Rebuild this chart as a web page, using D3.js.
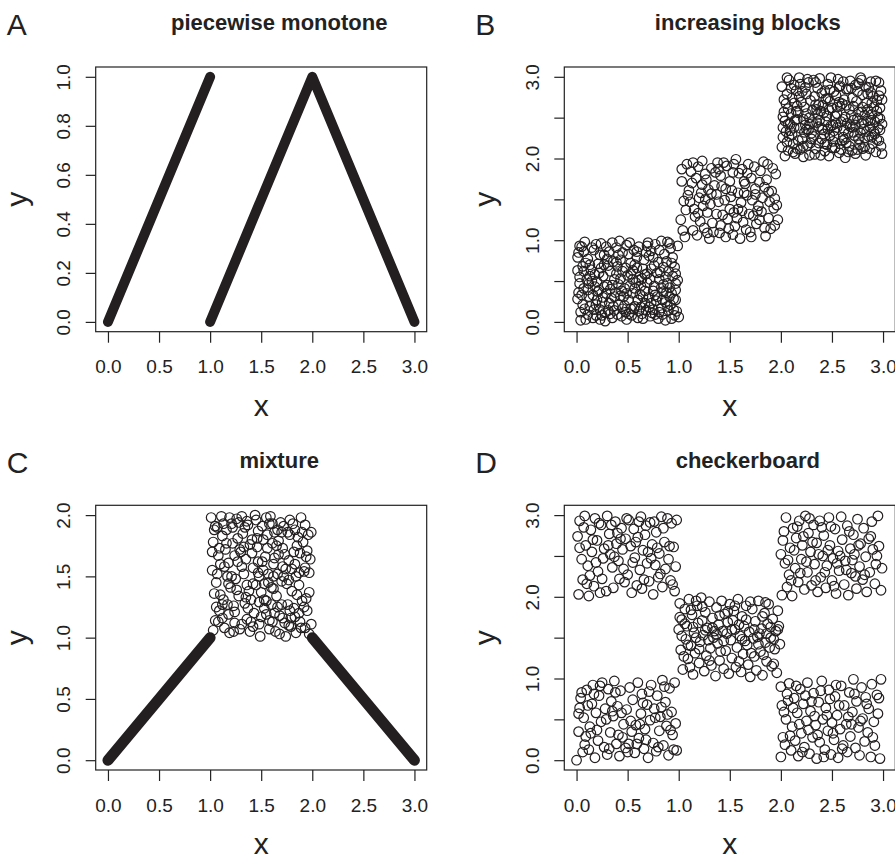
<!DOCTYPE html>
<html>
  <head>
    <title>Dependence patterns</title>
    <script src="https://cdn.jsdelivr.net/npm/d3@7"></script>
    <style>
      body { margin: 0; background: #fff; }
    </style>
  </head>

  <body>
    <script>
      // Tick values
      const xTicks = [0, 0.5, 1, 1.5, 2, 2.5, 3];
      const yTicksA = [0, 0.2, 0.4, 0.6, 0.8, 1];
      const yTicksB = [0, 0.5, 1, 1.5, 2, 2.5, 3];
      const yTickLabelsB = ["0.0", "", "1.0", "", "2.0", "", "3.0"];
      const yTicksC = [0, 0.5, 1, 1.5, 2];

      // Dense point bands (so many circles they read as a thick line) - endpoints
      const aLines = [
        [[0, 0], [1, 1]],
        [[1, 0], [2, 1], [3, 0]]
      ];
      const cLines = [
        [[0, 0], [1, 1]],
        [[2, 1], [3, 0]]
      ];

      // B: increasing blocks
      const bBlock1 = [
        [0.02,0.85],[0.05,0.92],[0.08,0.98],[0.11,0.77],[0.14,0.64],[0.03,0.55],[0.07,0.41],[0.01,0.28],[0.04,0.12],[0.09,0.03],
        [0.13,0.19],[0.16,0.33],[0.12,0.47],[0.18,0.58],[0.21,0.71],[0.17,0.88],[0.24,0.96],[0.27,0.82],[0.22,0.39],[0.25,0.24],
        [0.19,0.08],[0.28,0.01],[0.31,0.14],[0.34,0.29],[0.3,0.45],[0.33,0.62],[0.36,0.74],[0.39,0.91],[0.42,0.99],[0.45,0.85],
        [0.4,0.68],[0.43,0.53],[0.38,0.36],[0.41,0.21],[0.44,0.07],[0.48,0.12],[0.51,0.27],[0.47,0.41],[0.5,0.57],[0.53,0.72],
        [0.49,0.94],[0.56,0.88],[0.59,0.79],[0.55,0.63],[0.58,0.48],[0.62,0.34],[0.57,0.19],[0.6,0.05],[0.64,0.1],[0.67,0.23],
        [0.63,0.44],[0.69,0.59],[0.66,0.76],[0.7,0.97],[0.73,0.87],[0.76,0.69],[0.72,0.52],[0.75,0.38],[0.78,0.26],[0.74,0.11],
        [0.8,0.04],[0.83,0.17],[0.79,0.31],[0.85,0.46],[0.82,0.61],[0.86,0.83],[0.89,0.98],[0.92,0.9],[0.88,0.74],[0.94,0.56],
        [0.91,0.42],[0.95,0.28],[0.9,0.14],[0.87,0.02],[0.97,0.47],[0.96,0.67],[0.99,0.93],[0.98,0.13],[1.0,0.06],[0.93,0.35],
        [0.06,0.21],[0.02,0.36],[0.1,0.52],[0.06,0.68],[0.01,0.79],[0.15,0.91],[0.2,0.49],[0.23,0.15],[0.26,0.56],[0.29,0.35],
        [0.32,0.86],[0.35,0.05],[0.37,0.52],[0.46,0.31],[0.52,0.44],[0.54,0.08],[0.61,0.92],[0.65,0.65],[0.68,0.14],[0.71,0.3],
        [0.77,0.95],[0.81,0.52],[0.84,0.27],[0.9,0.62],[0.94,0.79],[0.08,0.16],[0.12,0.31],[0.16,0.05],[0.2,0.27],[0.24,0.66],
        [0.28,0.11],[0.32,0.23],[0.36,0.19],[0.4,0.09],[0.44,0.38],[0.48,0.66],[0.52,0.97],[0.56,0.16],[0.6,0.27],[0.64,0.53],
        [0.68,0.85],[0.72,0.07],[0.76,0.44],[0.8,0.73],[0.84,0.09],[0.88,0.36],[0.92,0.21],[0.96,0.08],[0.03,0.47],[0.13,0.7],
        [0.18,0.43],[0.23,0.82],[0.27,0.43],[0.31,0.69],[0.35,0.97],[0.39,0.59],[0.43,0.76],[0.47,0.2],[0.51,0.83],[0.55,0.35],
        [0.59,0.66],[0.63,0.18],[0.67,0.38],[0.71,0.81],[0.75,0.15],[0.79,0.6],[0.83,0.99],[0.87,0.55],[0.91,0.31],[0.97,0.39],
        [0.04,0.02],[0.07,0.62],[0.11,0.09],[0.15,0.5],[0.19,0.95],[0.22,0.6],[0.26,0.3],[0.3,0.77],[0.33,0.4],[0.37,0.14],
        [0.41,0.46],[0.45,0.62],[0.49,0.03],[0.53,0.59],[0.57,0.41],[0.61,0.13],[0.65,0.31],[0.69,0.48],[0.73,0.65],[0.77,0.33],
        [0.81,0.12],[0.85,0.67],[0.89,0.47],[0.93,0.04],[0.97,0.59],[0.01,0.63],[0.05,0.33],[0.09,0.72],[0.13,0.56],[0.17,0.15],
        [0.21,0.37],[0.25,0.08],[0.29,0.92],[0.33,0.1],[0.37,0.31],[0.41,0.82],[0.45,0.16],[0.49,0.35],[0.53,0.16],[0.57,0.7],
        [0.61,0.51],[0.65,0.04],[0.69,0.93],[0.73,0.23],[0.77,0.09],[0.81,0.88],[0.85,0.37],[0.89,0.19],[0.93,0.72],[0.97,0.27],
        [0.03,0.93],[0.11,0.39],[0.19,0.21],[0.27,0.7],[0.35,0.45],[0.43,0.32],[0.51,0.1],[0.59,0.86],[0.67,0.58],[0.75,0.79],
        [0.83,0.42],[0.91,0.96],[0.99,0.51],[0.07,0.86],[0.23,0.03],[0.39,0.73],[0.55,0.52],[0.71,0.18],[0.87,0.24],[0.95,0.15]
      ];
      const bBlock2 = [
        [1.02,1.25],[1.05,1.48],[1.03,1.72],[1.08,1.93],[1.12,1.84],[1.1,1.61],[1.07,1.37],[1.14,1.12],[1.18,1.06],[1.16,1.29],
        [1.2,1.52],[1.17,1.76],[1.23,1.97],[1.26,1.81],[1.22,1.58],[1.28,1.34],[1.25,1.15],[1.3,1.02],[1.33,1.21],[1.31,1.44],
        [1.35,1.67],[1.32,1.88],[1.38,1.95],[1.41,1.79],[1.37,1.56],[1.43,1.31],[1.4,1.09],[1.46,1.04],[1.48,1.26],[1.45,1.49],
        [1.5,1.72],[1.47,1.91],[1.53,1.83],[1.56,1.99],[1.52,1.61],[1.58,1.38],[1.55,1.17],[1.6,1.02],[1.63,1.22],[1.61,1.46],
        [1.65,1.69],[1.62,1.87],[1.68,1.93],[1.71,1.76],[1.67,1.55],[1.73,1.3],[1.7,1.1],[1.76,1.2],[1.78,1.42],[1.75,1.63],
        [1.8,1.85],[1.83,1.96],[1.86,1.74],[1.82,1.52],[1.88,1.27],[1.85,1.05],[1.9,1.14],[1.93,1.39],[1.91,1.6],[1.95,1.81],
        [1.97,1.25],[1.94,1.51],[1.04,1.12],[1.09,1.55],[1.13,1.7],[1.19,1.9],[1.24,1.42],[1.29,1.62],[1.34,1.1],[1.39,1.47],
        [1.44,1.95],[1.49,1.14],[1.54,1.34],[1.59,1.82],[1.64,1.58],[1.69,1.32],[1.74,1.9],[1.79,1.25],[1.84,1.65],[1.89,1.47],
        [1.15,1.38],[1.21,1.23],[1.27,1.74],[1.36,1.83],[1.42,1.66],[1.51,1.53],[1.57,1.27],[1.66,1.13],[1.72,1.49],[1.81,1.35],
        [1.03,1.87],[1.06,1.04],[1.11,1.47],[1.14,1.95],[1.19,1.33],[1.23,1.68],[1.28,1.09],[1.32,1.57],[1.37,1.32],[1.41,1.18],
        [1.46,1.63],[1.5,1.38],[1.54,1.93],[1.58,1.58],[1.62,1.36],[1.67,1.82],[1.71,1.04],[1.75,1.56],[1.79,1.71],[1.84,1.15],
        [1.88,1.59],[1.92,1.88],[1.96,1.43],[1.26,1.5],[1.39,1.87],[1.53,1.07],[1.64,1.72],[1.77,1.36],[1.87,1.93],[1.94,1.18]
      ];
      const bBlock3 = [
        [2.01,2.88],[2.03,2.72],[2.02,2.51],[2.05,2.33],[2.01,2.14],[2.04,2.03],[2.08,2.96],[2.07,2.61],[2.09,2.42],[2.06,2.2],
        [2.12,2.08],[2.11,2.29],[2.14,2.47],[2.13,2.68],[2.15,2.83],[2.18,2.99],[2.17,2.56],[2.19,2.37],[2.16,2.12],[2.22,2.02],
        [2.21,2.24],[2.24,2.41],[2.23,2.63],[2.25,2.79],[2.27,2.93],[2.29,2.71],[2.28,2.5],[2.3,2.31],[2.26,2.16],[2.33,2.05],
        [2.32,2.27],[2.35,2.44],[2.34,2.66],[2.36,2.86],[2.38,2.98],[2.4,2.8],[2.39,2.58],[2.41,2.35],[2.37,2.19],[2.43,2.09],
        [2.42,2.3],[2.45,2.52],[2.44,2.73],[2.46,2.91],[2.48,2.84],[2.5,2.62],[2.49,2.4],[2.51,2.21],[2.47,2.03],[2.53,2.13],
        [2.52,2.34],[2.55,2.55],[2.54,2.77],[2.56,2.97],[2.58,2.89],[2.6,2.67],[2.59,2.45],[2.61,2.26],[2.57,2.07],[2.63,2.01],
        [2.62,2.23],[2.65,2.43],[2.64,2.65],[2.66,2.85],[2.68,2.95],[2.7,2.74],[2.69,2.53],[2.71,2.32],[2.67,2.15],[2.73,2.06],
        [2.72,2.28],[2.75,2.49],[2.74,2.7],[2.76,2.92],[2.78,2.99],[2.8,2.78],[2.79,2.57],[2.81,2.36],[2.77,2.17],[2.83,2.04],
        [2.82,2.25],[2.85,2.46],[2.84,2.68],[2.86,2.87],[2.88,2.94],[2.9,2.76],[2.89,2.54],[2.91,2.33],[2.87,2.12],[2.93,2.08],
        [2.92,2.3],[2.95,2.5],[2.94,2.71],[2.96,2.93],[2.98,2.83],[2.97,2.62],[2.99,2.42],[2.96,2.22],[2.99,2.06],[2.02,2.38],
        [2.06,2.79],[2.1,2.55],[2.13,2.9],[2.17,2.22],[2.2,2.69],[2.24,2.87],[2.27,2.35],[2.31,2.59],[2.34,2.12],[2.38,2.47],
        [2.41,2.65],[2.45,2.17],[2.48,2.28],[2.52,2.82],[2.55,2.38],[2.59,2.11],[2.62,2.72],[2.66,2.31],[2.69,2.86],[2.73,2.41],
        [2.76,2.24],[2.8,2.63],[2.83,2.88],[2.87,2.39],[2.9,2.18],[2.94,2.58],[2.97,2.35],[2.04,2.46],[2.08,2.27],[2.11,2.74],
        [2.15,2.58],[2.19,2.11],[2.22,2.48],[2.26,2.97],[2.29,2.19],[2.33,2.76],[2.36,2.54],[2.4,2.24],[2.43,2.83],[2.47,2.6],
        [2.5,2.13],[2.54,2.43],[2.57,2.69],[2.61,2.94],[2.64,2.19],[2.68,2.39],[2.71,2.64],[2.75,2.11],[2.78,2.31],[2.82,2.53],
        [2.85,2.79],[2.89,2.26],[2.92,2.45],[2.96,2.77],[2.09,2.34],[2.18,2.76],[2.28,2.42],[2.46,2.36],[2.63,2.51],[2.81,2.44],
        [2.02,2.26],[2.05,2.67],[2.07,2.1],[2.1,2.86],[2.13,2.38],[2.16,2.64],[2.19,2.91],[2.22,2.15],[2.25,2.55],[2.28,2.04],
        [2.31,2.44],[2.34,2.93],[2.37,2.66],[2.4,2.37],[2.43,2.18],[2.46,2.74],[2.49,2.99],[2.52,2.27],[2.55,2.63],[2.58,2.18],
        [2.61,2.48],[2.64,2.85],[2.67,2.6],[2.7,2.1],[2.73,2.9],[2.76,2.57],[2.79,2.43],[2.82,2.14],[2.85,2.6],[2.88,2.81],
        [2.91,2.63],[2.94,2.23],[2.97,2.49],[2.99,2.72],[2.03,2.57],[2.07,2.42],[2.12,2.18],[2.16,2.48],[2.21,2.82],[2.25,2.36],
        [2.3,2.24],[2.35,2.6],[2.39,2.04],[2.44,2.45],[2.48,2.7],[2.53,2.52],[2.57,2.88],[2.62,2.35],[2.66,2.08],[2.71,2.47],
        [2.75,2.82],[2.8,2.12],[2.84,2.33],[2.89,2.68],[2.93,2.95],[2.98,2.15],[2.14,2.06],[2.23,2.32],[2.32,2.96],[2.42,2.56],
        [2.51,2.41],[2.6,2.22],[2.7,2.38],[2.79,2.96],[2.88,2.47],[2.95,2.37],[2.06,2.99],[2.37,2.39],[2.58,2.64],[2.86,2.27]
      ];

      // C: mixture (scattered square on top of the V)
      const cBlock = [
        [1.01,1.98],[1.03,1.78],[1.02,1.55],[1.04,1.36],[1.05,1.14],[1.03,1.06],[1.07,1.9],[1.08,1.67],[1.06,1.45],[1.09,1.22],
        [1.11,1.99],[1.12,1.83],[1.1,1.6],[1.13,1.31],[1.14,1.08],[1.16,1.88],[1.15,1.72],[1.17,1.5],[1.18,1.19],[1.19,1.04],
        [1.21,1.93],[1.22,1.77],[1.2,1.41],[1.23,1.26],[1.24,1.12],[1.26,1.97],[1.27,1.62],[1.25,1.48],[1.28,1.34],[1.29,1.07],
        [1.31,1.99],[1.32,1.85],[1.3,1.7],[1.33,1.52],[1.34,1.28],[1.36,1.15],[1.37,1.92],[1.35,1.64],[1.38,1.38],[1.39,1.05],
        [1.41,1.8],[1.42,1.57],[1.4,1.31],[1.43,1.2],[1.44,2.0],[1.46,1.74],[1.47,1.53],[1.45,1.43],[1.48,1.11],[1.49,1.01],
        [1.51,1.91],[1.52,1.55],[1.5,1.37],[1.53,1.24],[1.54,1.66],[1.56,1.84],[1.57,1.52],[1.55,1.3],[1.58,1.14],[1.59,1.99],
        [1.61,1.77],[1.62,1.6],[1.6,1.41],[1.63,1.2],[1.64,1.05],[1.66,1.88],[1.67,1.68],[1.65,1.34],[1.68,1.18],[1.69,1.94],
        [1.71,1.73],[1.72,1.5],[1.7,1.27],[1.73,1.12],[1.74,1.01],[1.76,1.86],[1.77,1.63],[1.75,1.44],[1.78,1.22],[1.79,1.09],
        [1.81,1.93],[1.82,1.7],[1.8,1.56],[1.83,1.17],[1.84,1.04],[1.86,1.82],[1.87,1.53],[1.85,1.35],[1.88,1.13],[1.89,1.98],
        [1.91,1.78],[1.92,1.54],[1.9,1.3],[1.93,1.08],[1.94,1.66],[1.96,1.84],[1.97,1.37],[1.95,1.22],[1.98,1.64],[1.99,1.11],
        [1.04,1.88],[1.09,1.73],[1.13,1.93],[1.18,1.61],[1.22,1.9],[1.27,1.81],[1.33,1.74],[1.36,1.95],[1.41,1.69],[1.47,1.87],
        [1.52,1.8],[1.58,1.93],[1.63,1.86],[1.67,1.79],[1.72,1.91],[1.78,1.84],[1.83,1.88],[1.88,1.69],[1.93,1.92],[1.06,1.25],
        [1.12,1.16],[1.17,1.27],[1.24,1.21],[1.31,1.11],[1.37,1.24],[1.42,1.09],[1.48,1.29],[1.55,1.19],[1.61,1.13],[1.66,1.25],
        [1.71,1.16],[1.77,1.1],[1.82,1.24],[1.87,1.2],[1.94,1.32],[1.47,1.62],[1.57,1.45],[1.62,1.5],[1.71,1.58],[1.77,1.47],
        [1.02,1.7],[1.05,1.91],[1.08,1.13],[1.1,1.35],[1.14,1.58],[1.16,1.77],[1.19,1.98],[1.21,1.5],[1.23,1.05],[1.26,1.39],
        [1.29,1.72],[1.31,1.58],[1.34,1.9],[1.36,1.43],[1.39,1.76],[1.42,1.44],[1.45,1.96],[1.48,1.5],[1.5,1.17],[1.53,1.44],
        [1.56,1.73],[1.58,1.07],[1.61,1.93],[1.63,1.65],[1.66,1.52],[1.68,1.03],[1.7,1.46],[1.73,1.68],[1.76,1.27],[1.78,1.96],
        [1.8,1.38],[1.83,1.6],[1.85,1.75],[1.87,1.43],[1.9,1.86],[1.92,1.25],[1.95,1.71],[1.97,1.53],[1.99,1.86],[1.12,1.27],
        [1.18,1.44],[1.24,1.67],[1.28,1.94],[1.35,1.33],[1.4,1.13],[1.46,1.81],[1.51,1.62],[1.55,1.98],[1.6,1.27],[1.65,1.75],
        [1.7,1.86],[1.74,1.56],[1.79,1.16],[1.84,1.5],[1.89,1.08],[1.93,1.57],[1.97,1.03],[1.07,1.52],[1.62,1.4],[1.53,1.31]
      ];

      // D: checkerboard
      const dBlock1 = [
        [0.0,0.0],[0.02,0.35],[0.03,0.64],[0.04,0.76],[0.06,0.1],[0.07,0.52],[0.09,0.29],[0.1,0.86],[0.12,0.13],[0.13,0.41],
        [0.15,0.69],[0.16,0.92],[0.18,0.03],[0.19,0.58],[0.21,0.24],[0.22,0.79],[0.24,0.47],[0.25,0.95],[0.27,0.16],[0.28,0.63],
        [0.3,0.07],[0.31,0.87],[0.33,0.34],[0.34,0.72],[0.36,0.54],[0.37,0.97],[0.39,0.2],[0.4,0.66],[0.42,0.05],[0.43,0.85],
        [0.45,0.28],[0.46,0.44],[0.48,0.15],[0.49,0.62],[0.51,0.2],[0.52,0.89],[0.54,0.35],[0.55,0.74],[0.57,0.09],[0.58,0.43],
        [0.6,0.95],[0.61,0.27],[0.63,0.57],[0.64,0.81],[0.66,0.14],[0.67,0.38],[0.69,0.68],[0.7,0.03],[0.72,0.49],[0.73,0.92],
        [0.75,0.21],[0.76,0.63],[0.78,0.11],[0.79,0.79],[0.81,0.36],[0.82,0.53],[0.84,0.98],[0.85,0.18],[0.87,0.71],[0.88,0.42],
        [0.9,0.06],[0.91,0.88],[0.93,0.59],[0.94,0.31],[0.96,0.95],[0.97,0.45],[0.98,0.12],[0.14,0.33],[0.35,0.6],[0.62,0.44],
        [0.02,0.57],[0.05,0.83],[0.08,0.19],[0.11,0.67],[0.17,0.81],[0.2,0.37],[0.23,0.91],[0.29,0.5],[0.32,0.14],[0.38,0.83],
        [0.41,0.31],[0.44,0.58],[0.5,0.1],[0.53,0.48],[0.59,0.2],[0.65,0.7],[0.68,0.25],[0.71,0.84],[0.77,0.52],[0.8,0.16],
        [0.83,0.65],[0.86,0.9],[0.89,0.56],[0.92,0.37],[0.95,0.13]
      ];
      const dBlock2 = [
        [0.01,2.74],[0.02,2.03],[0.03,2.93],[0.05,2.46],[0.06,2.21],[0.08,2.99],[0.09,2.63],[0.11,2.38],[0.12,2.01],[0.14,2.82],
        [0.15,2.55],[0.17,2.13],[0.18,2.96],[0.2,2.69],[0.21,2.31],[0.23,2.05],[0.24,2.88],[0.26,2.47],[0.27,2.59],[0.29,2.07],
        [0.3,2.99],[0.32,2.77],[0.33,2.52],[0.35,2.36],[0.36,2.11],[0.38,2.92],[0.39,2.65],[0.41,2.44],[0.42,2.22],[0.44,2.84],
        [0.45,2.58],[0.47,2.18],[0.48,2.71],[0.5,2.27],[0.51,2.94],[0.53,2.62],[0.54,2.05],[0.56,2.83],[0.57,2.48],[0.59,2.14],
        [0.6,2.73],[0.62,2.33],[0.63,2.98],[0.65,2.57],[0.66,2.21],[0.68,2.87],[0.69,2.41],[0.71,2.19],[0.72,2.91],[0.74,2.64],
        [0.75,2.03],[0.77,2.39],[0.78,2.79],[0.8,2.24],[0.81,2.53],[0.83,2.98],[0.84,2.12],[0.86,2.67],[0.87,2.34],[0.89,2.96],
        [0.9,2.46],[0.92,2.2],[0.93,2.9],[0.95,2.61],[0.96,2.07],[0.97,2.37],[0.98,2.94],[0.13,2.26],[0.4,2.78],[0.7,2.55],
        [0.03,2.6],[0.07,2.85],[0.1,2.16],[0.16,2.7],[0.19,2.42],[0.22,2.9],[0.25,2.22],[0.31,2.63],[0.34,2.88],[0.37,2.49],
        [0.43,2.71],[0.46,2.34],[0.49,2.96],[0.55,2.42],[0.58,2.67],[0.61,2.92],[0.64,2.1],[0.67,2.76],[0.73,2.47],[0.76,2.92],
        [0.79,2.6],[0.82,2.28],[0.85,2.84],[0.91,2.62],[0.94,2.15]
      ];
      const dBlock3 = [
        [2.0,0.9],[2.01,0.67],[2.02,0.28],[2.0,0.04],[2.04,0.19],[2.05,0.5],[2.07,0.73],[2.08,0.94],[2.1,0.12],[2.11,0.41],
        [2.13,0.76],[2.14,0.24],[2.16,0.58],[2.17,0.05],[2.19,0.87],[2.2,0.33],[2.22,0.69],[2.23,0.16],[2.25,0.48],[2.26,0.95],
        [2.28,0.08],[2.29,0.6],[2.31,0.28],[2.32,0.82],[2.34,0.43],[2.35,0.02],[2.37,0.71],[2.38,0.22],[2.4,0.97],[2.41,0.5],
        [2.43,0.13],[2.44,0.64],[2.46,0.36],[2.47,0.86],[2.49,0.07],[2.5,0.46],[2.52,0.25],[2.53,0.78],[2.55,0.55],[2.56,0.03],
        [2.58,0.38],[2.59,0.91],[2.61,0.18],[2.62,0.67],[2.64,0.44],[2.65,0.1],[2.67,0.83],[2.68,0.29],[2.7,0.59],[2.71,0.99],
        [2.73,0.15],[2.74,0.72],[2.76,0.4],[2.77,0.06],[2.79,0.89],[2.8,0.51],[2.82,0.23],[2.83,0.77],[2.85,0.34],[2.86,0.63],
        [2.88,0.04],[2.89,0.93],[2.91,0.47],[2.92,0.18],[2.94,0.8],[2.95,0.57],[2.97,0.02],[2.98,0.99],[2.33,0.54],[2.69,0.44],
        [2.03,0.59],[2.06,0.81],[2.09,0.3],[2.12,0.64],[2.15,0.91],[2.18,0.44],[2.21,0.1],[2.24,0.79],[2.27,0.37],[2.3,0.72],
        [2.36,0.31],[2.39,0.85],[2.42,0.04],[2.45,0.55],[2.48,0.75],[2.51,0.33],[2.54,0.92],[2.57,0.67],[2.6,0.14],[2.66,0.53],
        [2.72,0.81],[2.78,0.48],[2.84,0.69],[2.9,0.28],[2.96,0.76]
      ];
      const dBlock4 = [
        [2.0,2.52],[2.01,2.02],[2.02,2.69],[2.04,2.41],[2.05,2.97],[2.06,2.12],[2.08,2.27],[2.09,2.6],[2.11,2.01],[2.12,2.84],
        [2.14,2.35],[2.15,2.72],[2.17,2.18],[2.18,2.93],[2.2,2.46],[2.21,2.63],[2.23,2.09],[2.24,2.99],[2.26,2.3],[2.27,2.78],
        [2.29,2.55],[2.3,2.14],[2.32,2.88],[2.33,2.4],[2.35,2.66],[2.36,2.06],[2.38,2.93],[2.39,2.24],[2.41,2.5],[2.42,2.75],
        [2.44,2.11],[2.45,2.38],[2.47,2.97],[2.48,2.63],[2.5,2.2],[2.51,2.47],[2.53,2.83],[2.54,2.04],[2.56,2.56],[2.57,2.32],
        [2.59,2.98],[2.6,2.7],[2.62,2.15],[2.63,2.44],[2.65,2.87],[2.66,2.02],[2.68,2.59],[2.69,2.29],[2.71,2.76],[2.72,2.52],
        [2.74,2.1],[2.75,2.95],[2.77,2.37],[2.78,2.65],[2.8,2.21],[2.81,2.84],[2.83,2.49],[2.84,2.06],[2.86,2.71],[2.87,2.3],
        [2.89,2.92],[2.9,2.58],[2.92,2.16],[2.93,2.4],[2.95,2.99],[2.96,2.62],[2.98,2.08],[2.99,2.35],[2.55,2.41],[2.73,2.25],
        [2.03,2.8],[2.07,2.45],[2.1,2.2],[2.13,2.57],[2.16,2.86],[2.19,2.29],[2.22,2.74],[2.25,2.43],[2.28,2.96],[2.31,2.67],
        [2.34,2.2],[2.37,2.52],[2.4,2.85],[2.43,2.3],[2.46,2.57],[2.49,2.86],[2.52,2.13],[2.58,2.5],[2.64,2.33],[2.67,2.8],
        [2.7,2.45],[2.76,2.63],[2.82,2.27],[2.88,2.74],[2.94,2.5]
      ];
      const dBlock5 = [
        [1.0,1.6],[1.01,1.92],[1.02,1.35],[1.03,1.72],[1.04,1.11],[1.06,1.85],[1.07,1.48],[1.08,1.64],[1.09,1.24],[1.1,1.97],
        [1.12,1.4],[1.13,1.78],[1.14,1.05],[1.15,1.56],[1.16,1.31],[1.18,1.89],[1.19,1.68],[1.2,1.19],[1.21,1.45],[1.22,1.99],
        [1.24,1.53],[1.25,1.09],[1.26,1.81],[1.27,1.28],[1.28,1.62],[1.3,1.94],[1.31,1.37],[1.32,1.16],[1.33,1.74],[1.34,1.5],
        [1.36,1.03],[1.37,1.87],[1.38,1.43],[1.39,1.66],[1.4,1.22],[1.42,1.95],[1.43,1.58],[1.44,1.12],[1.45,1.79],[1.46,1.34],
        [1.48,1.69],[1.49,1.06],[1.5,1.91],[1.51,1.47],[1.52,1.25],[1.54,1.83],[1.55,1.6],[1.56,1.14],[1.57,1.38],[1.58,1.97],
        [1.6,1.52],[1.61,1.08],[1.62,1.76],[1.63,1.3],[1.64,1.64],[1.66,1.89],[1.67,1.41],[1.68,1.17],[1.69,1.57],[1.7,1.02],
        [1.72,1.85],[1.73,1.49],[1.74,1.27],[1.75,1.7],[1.76,1.1],[1.78,1.95],[1.79,1.55],[1.8,1.33],[1.81,1.61],[1.82,1.04],
        [1.84,1.8],[1.85,1.44],[1.86,1.21],[1.87,1.67],[1.88,1.91],[1.9,1.5],[1.91,1.15],[1.92,1.73],[1.94,1.36],[1.95,1.58],
        [1.96,1.07],[1.97,1.83],[1.99,1.42],[1.98,1.64],[1.05,1.27],[1.17,1.5],[1.23,1.71],[1.29,1.47],[1.35,1.58],[1.41,1.33],
        [1.47,1.55],[1.53,1.71],[1.59,1.21],[1.65,1.46],[1.71,1.31],[1.77,1.51],[1.83,1.29],[1.89,1.38],[1.93,1.18],[1.11,1.14],
        [1.01,1.75],[1.03,1.52],[1.06,1.67],[1.09,1.41],[1.12,1.84],[1.14,1.63],[1.17,1.95],[1.2,1.36],[1.23,1.88],[1.26,1.59],
        [1.3,1.22],[1.33,1.62],[1.37,1.54],[1.4,1.77],[1.44,1.46],[1.48,1.82],[1.52,1.6],[1.55,1.89],[1.59,1.66],[1.62,1.48],
        [1.66,1.72],[1.7,1.94],[1.74,1.6],[1.78,1.42],[1.82,1.76],[1.86,1.55],[1.9,1.63],[1.93,1.48],[1.97,1.6],[1.85,1.93]
      ];

      // Layout
      const w = 895;
      const h = 855;
      const boxW = 331;
      const boxH = 264.7;
      const ink = "#231f20";
      const font = "'Liberation Sans', Arial, Helvetica, sans-serif";

      const panels = [
        { letter: "A", title: "piecewise monotone", left: 95.7, top: 67,
          yMax: 1, yTicks: yTicksA, yLabels: yTicksA.map(d3.format(".1f")),
          lines: aLines, lineWidth: 10, points: [] },
        { letter: "B", title: "increasing blocks", left: 564.3, top: 67,
          yMax: 3, yTicks: yTicksB, yLabels: yTickLabelsB,
          lines: [], points: [bBlock1, bBlock2, bBlock3] },
        { letter: "C", title: "mixture", left: 95.7, top: 505.3,
          yMax: 2, yTicks: yTicksC, yLabels: yTicksC.map(d3.format(".1f")),
          lines: cLines, lineWidth: 11, points: [cBlock] },
        { letter: "D", title: "checkerboard", left: 564.3, top: 505.3,
          yMax: 3, yTicks: yTicksB, yLabels: yTickLabelsB,
          lines: [], points: [dBlock1, dBlock2, dBlock3, dBlock4, dBlock5] }
      ];

      const svg = d3
        .select("body")
        .append("svg")
        .attr("width", w)
        .attr("height", h)
        .attr("font-family", font);

      for (let p of panels) {
        const right = p.left + boxW;
        const bottom = p.top + boxH;

        // R style: 4% extra on each side of the data range
        const x = d3.scaleLinear().domain([-0.12, 3.12]).range([p.left, right]);
        const pad = p.yMax * 0.04;
        const y = d3.scaleLinear().domain([-pad, p.yMax + pad]).range([bottom, p.top]);

        const g = svg.append("g");

        // thick bands
        const line = d3.line().x((d) => x(d[0])).y((d) => y(d[1]));
        g.selectAll("path.band")
          .data(p.lines)
          .enter()
          .append("path")
          .attr("class", "band")
          .attr("d", line)
          .attr("fill", "none")
          .attr("stroke", ink)
          .attr("stroke-width", p.lineWidth)
          .attr("stroke-linecap", "round")
          .attr("stroke-linejoin", "round");

        // open circles
        for (let block of p.points) {
          g.append("g")
            .selectAll("circle")
            .data(block)
            .enter()
            .append("circle")
            .attr("cx", (d) => x(d[0]))
            .attr("cy", (d) => y(d[1]))
            .attr("r", 4.8)
            .attr("fill", "none")
            .attr("stroke", ink)
            .attr("stroke-width", 1.2);
        }

        // box
        g.append("rect")
          .attr("x", p.left)
          .attr("y", p.top)
          .attr("width", boxW)
          .attr("height", boxH)
          .attr("fill", "none")
          .attr("stroke", "#222")
          .attr("stroke-width", 1.2);

        // x axis
        const xAxis = g
          .append("g")
          .attr("transform", `translate(0,${bottom})`)
          .call(
            d3.axisBottom(x)
              .tickValues(xTicks)
              .tickFormat(d3.format(".1f"))
              .tickSize(11)
              .tickSizeOuter(0)
          );
        xAxis.select(".domain").remove();
        xAxis.attr("color", "#222").attr("font-size", 19).attr("font-family", font);
        xAxis.selectAll("line").attr("stroke-width", 1.2);
        xAxis.selectAll("text").attr("y", 41.5).attr("dy", null).attr("fill", "#222");

        // y axis, labels turned like R's las=0
        const yAxis = g
          .append("g")
          .attr("transform", `translate(${p.left},0)`)
          .call(
            d3.axisLeft(y)
              .tickValues(p.yTicks)
              .tickFormat((d, i) => p.yLabels[i])
              .tickSize(10)
              .tickSizeOuter(0)
          );
        yAxis.select(".domain").remove();
        yAxis.attr("color", "#222").attr("font-size", 19).attr("font-family", font);
        yAxis.selectAll("line").attr("stroke-width", 1.2);
        yAxis
          .selectAll("text")
          .attr("x", null)
          .attr("dy", null)
          .attr("text-anchor", "middle")
          .attr("transform", "translate(-25.7,0) rotate(-90)")
          .attr("fill", "#222");

        // axis titles
        g.append("text")
          .text("x")
          .attr("x", (p.left + right) / 2)
          .attr("y", bottom + 84)
          .attr("text-anchor", "middle")
          .attr("font-size", 30)
          .attr("fill", "#222");

        g.append("text")
          .text("y")
          .attr("text-anchor", "middle")
          .attr("transform", `translate(${p.left - 69},${(p.top + bottom) / 2}) rotate(-90)`)
          .attr("font-size", 30)
          .attr("fill", "#222");

        // title
        g.append("text")
          .text(p.title)
          .attr("x", (p.left + right) / 2 + 18)
          .attr("y", p.top - 37)
          .attr("text-anchor", "middle")
          .attr("font-size", 22)
          .attr("font-weight", "bold")
          .attr("fill", "#222");

        // panel letter
        g.append("text")
          .text(p.letter)
          .attr("x", p.left - 89)
          .attr("y", p.top - 32)
          .attr("font-size", 30)
          .attr("fill", "#222");
      }
    </script>
  </body>
</html>
